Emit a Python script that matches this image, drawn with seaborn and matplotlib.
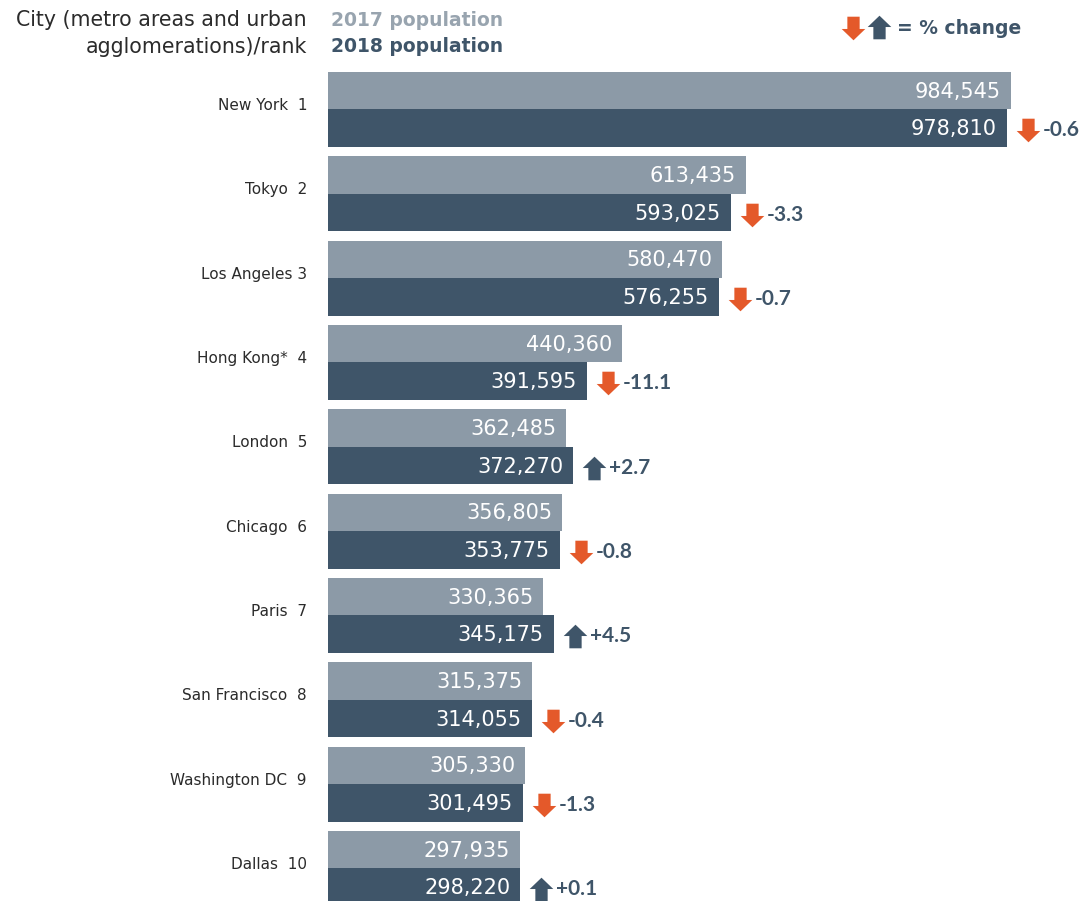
import numpy as np
import pandas as pd
import matplotlib
matplotlib.use("Agg")
import matplotlib.pyplot as plt
import matplotlib.transforms as mtransforms
from matplotlib.path import Path
import seaborn as sns

# ---- data ----
cities = ["New York", "Tokyo", "Los Angeles", "Hong Kong*", "London",
          "Chicago", "Paris", "San Francisco", "Washington DC", "Dallas"]
rank_labels = ["New York  1", "Tokyo  2", "Los Angeles 3", "Hong Kong*  4", "London  5",
               "Chicago  6", "Paris  7", "San Francisco  8", "Washington DC  9", "Dallas  10"]
pop_2017 = [984545, 613435, 580470, 440360, 362485, 356805, 330365, 315375, 305330, 297935]
pop_2018 = [978810, 593025, 576255, 391595, 372270, 353775, 345175, 314055, 301495, 298220]
pct_change = ["-0.6", "-3.3", "-0.7", "-11.1", "+2.7", "-0.8", "+4.5", "-0.4", "-1.3", "+0.1"]
years = ["2017", "2018"]

C17 = "#8C9AA7"
C18 = "#3F5569"
ORANGE = "#E4592A"
TXT = "#2b2b2b"

df = pd.DataFrame({
    "city": cities * 2,
    "year": [years[0]] * len(cities) + [years[1]] * len(cities),
    "value": pop_2017 + pop_2018,
})

sns.set_style("white")
plt.rcParams["font.family"] = ["DejaVu Sans"]

W, H = 1090, 901
fig = plt.figure(figsize=(W / 100, H / 100), dpi=100)
ax_top = 67.3
ax = fig.add_axes([328 / W, 0, 1 - 328 / W, 1 - ax_top / H])

sns.barplot(data=df, y="city", x="value", hue="year", order=cities,
            hue_order=years, palette=[C17, C18], width=0.89, orient="h",
            saturation=1, legend=False, ax=ax, linewidth=0)

slope = 0.000715  # px per unit
ax.set_xlim(21 / slope, (W - 307) / slope)
ax.set_ylim(-0.5 + (H - ax_top) / 84.33, -0.5)
ax.set_xlabel("")
ax.set_ylabel("")
ax.set_xticks([])
ax.set_yticks([])
for s in ax.spines.values():
    s.set_visible(False)

# category labels (right-aligned left of the bars, nudged up a little)
lab_tr = mtransforms.offset_copy(ax.get_yaxis_transform(), fig=fig, x=-21, y=4, units="dots")
for i, lab in enumerate(rank_labels):
    ax.text(0, i, lab, transform=lab_tr, ha="right", va="center",
            fontsize=11, color=TXT, clip_on=False)

# arrow markers
up_verts = [(-0.26, -0.5), (0.26, -0.5), (0.26, 0.02), (0.5, 0.02), (0.0, 0.5),
            (-0.5, 0.02), (-0.26, 0.02), (-0.26, -0.5)]
up_path = Path(up_verts, closed=True)
down_path = Path([(x, -y) for x, y in up_verts], closed=True)

off = 0.89 / 4
arrow_tr = mtransforms.offset_copy(ax.transData, fig=fig, x=21, y=-2, units="dots")
for i in range(len(cities)):
    y17 = i - off
    y18 = i + off
    ax.annotate(f"{pop_2017[i]:,}", xy=(pop_2017[i], y17), xytext=(-10, -1),
                textcoords="offset pixels", ha="right", va="center",
                color="white", fontsize=15)
    ax.annotate(f"{pop_2018[i]:,}", xy=(pop_2018[i], y18), xytext=(-10, -1),
                textcoords="offset pixels", ha="right", va="center",
                color="white", fontsize=15)
    up = pct_change[i].startswith("+")
    ax.scatter([pop_2018[i]], [y18], marker=up_path if up else down_path,
               s=17 ** 2, color=C18 if up else ORANGE, linewidths=0,
               transform=arrow_tr, clip_on=False, zorder=5)
    ax.annotate(pct_change[i], xy=(pop_2018[i], y18), xytext=(36, -2),
                textcoords="offset pixels", ha="left", va="center",
                color=C18, fontsize=15, fontweight="bold",
                family=["Lato", "DejaVu Sans"], annotation_clip=False)

# header
def fx(px):
    return px / W

def fy(py):
    return 1 - py / H

fig.text(fx(307), fy(20), "City (metro areas and urban", ha="right", va="center",
         fontsize=14.8, color=TXT)
fig.text(fx(307), fy(47), "agglomerations)/rank", ha="right", va="center",
         fontsize=14.8, color=TXT)
fig.text(fx(331), fy(20), "2017 population", ha="left", va="center",
         fontsize=13.5, color="#98A4AF", fontweight="bold")
fig.text(fx(331), fy(47), "2018 population", ha="left", va="center",
         fontsize=13.5, color=C18, fontweight="bold")

leg_ax = fig.add_axes([0, 0, 1, 1], facecolor="none")
leg_ax.set_xlim(0, W)
leg_ax.set_ylim(H, 0)
leg_ax.axis("off")
leg_ax.scatter([853], [28], marker=down_path, s=17 ** 2, color=ORANGE, linewidths=0)
leg_ax.scatter([879], [27], marker=up_path, s=17 ** 2, color=C18, linewidths=0)
fig.text(fx(897), fy(29), "= % change", ha="left", va="center",
         fontsize=13.5, color=C18, fontweight="bold")

fig.savefig("out.png", dpi=100)
